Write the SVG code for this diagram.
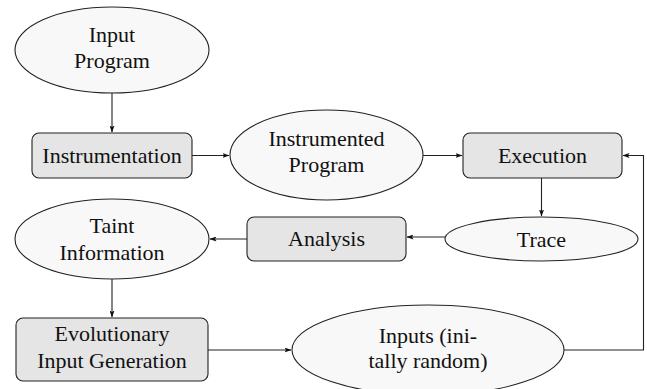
<svg xmlns="http://www.w3.org/2000/svg" width="647" height="389" viewBox="0 0 647 389">
<style>
.box{fill:#e5e5e5;stroke:#222;stroke-width:1.1}
.ell{fill:#f8f8f8;stroke:#222;stroke-width:1.1}
.lbl{font-family:"Liberation Serif",serif;font-size:22px;fill:#111}
.edge{fill:none;stroke:#222;stroke-width:1.1;marker-end:url(#arr)}
</style>
<defs>
<marker id="arr" viewBox="0 0 7 5" refX="6.5" refY="2.5" markerWidth="7" markerHeight="5" markerUnits="userSpaceOnUse" orient="auto">
<path d="M0,0 L7,2.5 L0,5 L1.5,2.5 Z" fill="#111"/>
</marker>
</defs>
<rect width="647" height="389" fill="#fff"/>
<g id="connectors">
<path class="edge" d="M112,93 L112,132"/>
<path class="edge" d="M192,155.5 L229,155.5"/>
<path class="edge" d="M423,155.5 L462,155.5"/>
<path class="edge" d="M541.5,178 L541.5,216"/>
<path class="edge" d="M445,237 L407,237"/>
<path class="edge" d="M247,239 L210,239"/>
<path class="edge" d="M112,279 L112,317"/>
<path class="edge" d="M208,350 L291,350"/>
<path class="edge" d="M564,350 L643.5,350 L643.5,155.5 L623,155.5"/>
</g>
<g id="input-program">
<ellipse class="ell" cx="112" cy="50" rx="97" ry="43"/>
<text class="lbl" font-family="Liberation Serif" text-anchor="middle" x="112" y="42">Input</text>
<text class="lbl" font-family="Liberation Serif" text-anchor="middle" x="112" y="68">Program</text>
</g>
<g id="instrumentation">
<rect class="box" x="32" y="133" width="160" height="45" rx="7"/>
<text class="lbl" font-family="Liberation Serif" text-anchor="middle" x="112" y="163">Instrumentation</text>
</g>
<g id="instrumented-program">
<ellipse class="ell" cx="326.5" cy="155" rx="96.5" ry="45"/>
<text class="lbl" font-family="Liberation Serif" text-anchor="middle" x="326.5" y="146">Instrumented</text>
<text class="lbl" font-family="Liberation Serif" text-anchor="middle" x="326.5" y="172">Program</text>
</g>
<g id="execution">
<rect class="box" x="463" y="133" width="159" height="45" rx="7"/>
<text class="lbl" font-family="Liberation Serif" text-anchor="middle" x="542.5" y="163">Execution</text>
</g>
<g id="trace">
<ellipse class="ell" cx="541.5" cy="239" rx="96.5" ry="22"/>
<text class="lbl" font-family="Liberation Serif" text-anchor="middle" x="541.5" y="246.5">Trace</text>
</g>
<g id="analysis">
<rect class="box" x="247" y="217" width="159" height="44" rx="7"/>
<text class="lbl" font-family="Liberation Serif" text-anchor="middle" x="326.5" y="246">Analysis</text>
</g>
<g id="taint-information">
<ellipse class="ell" cx="112" cy="239" rx="97" ry="40"/>
<text class="lbl" font-family="Liberation Serif" text-anchor="middle" x="112" y="233">Taint</text>
<text class="lbl" font-family="Liberation Serif" text-anchor="middle" x="112" y="260">Information</text>
</g>
<g id="evolutionary-input-generation">
<rect class="box" x="16" y="318" width="192" height="63" rx="7"/>
<text class="lbl" font-family="Liberation Serif" text-anchor="middle" x="112" y="341">Evolutionary</text>
<text class="lbl" font-family="Liberation Serif" text-anchor="middle" x="112" y="368">Input Generation</text>
</g>
<g id="inputs">
<ellipse class="ell" cx="428" cy="350" rx="136" ry="45"/>
<text class="lbl" font-family="Liberation Serif" text-anchor="middle" x="428" y="343">Inputs (ini-</text>
<text class="lbl" font-family="Liberation Serif" text-anchor="middle" x="428" y="368">tally random)</text>
</g>
</svg>
